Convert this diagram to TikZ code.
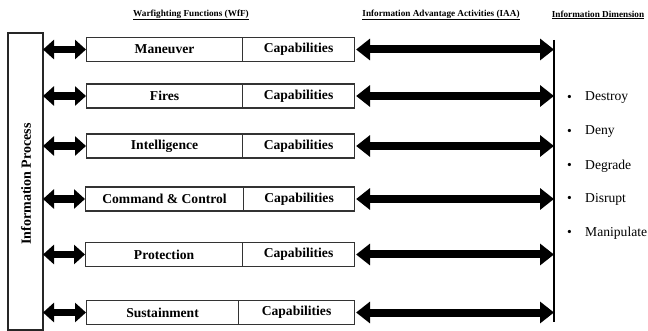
\documentclass[tikz,border=0pt]{standalone}
\usepackage{fontspec}
\setmainfont{Liberation Serif}
\usetikzlibrary{arrows.meta}
\tikzset{
  wbox/.style={draw=black!80, line width=1.1pt, minimum height=24pt, inner sep=0pt, font=\bfseries\fontsize{13.6}{15}\selectfont, anchor=west},
  hdr/.style={font=\bfseries\fontsize{9.2}{11}\selectfont, inner sep=0pt},
  smallarr/.style={line width=7.5pt, {Triangle[length=11pt,width=19pt]}-{Triangle[length=11pt,width=19pt]}, shorten <=0pt, shorten >=0pt},
  bigarr/.style={line width=8pt, {Triangle[length=14pt,width=21pt]}-{Triangle[length=14pt,width=21pt]}},
  item/.style={font=\fontsize{13.6}{15}\selectfont, anchor=west, inner sep=0pt},
}
\begin{document}
\begin{tikzpicture}[x=1pt,y=-1pt]
\useasboundingbox (0,0) rectangle (648,331);
% headers
\node[hdr] (h1) at (191,15) {\underline{Warfighting Functions (WfF)}};
\node[hdr] (h2) at (441,15) {\underline{Information Advantage Activities (IAA)}};
\node[hdr] (h3) at (598,15) {\underline{Information Dimension}};
% left box
\draw[line width=1.1pt, draw=black!85] (8,33) rectangle (43,330);
\coordinate (lb) at (43,33);
\node[rotate=90, font=\bfseries\fontsize{14}{16}\selectfont, inner sep=0pt] (ip) at (26,184) {Information Process};
% vertical line
\coordinate (vtop) at (554,40);
\coordinate (vbot) at (554,322);
\draw[line width=1.3pt] (vtop) -- (vbot);
% rows
\foreach \i/\nm/\y/\xl/\xd in {1/Maneuver/49.5/86/242, 2/Fires/96/86/242, 3/Intelligence/146/86/242, 4/Command \& Control/199/85/243, 5/Protection/254.5/85/242, 6/Sustainment/312.5/86/238}{
  \node[wbox, minimum width={\xd-\xl}] (f\i) at (\xl,\y) {\nm};
  \node[wbox, minimum width={354-\xd}] (c\i) at (\xd,\y) {Capabilities};
  \draw[smallarr] (lb |- f\i.west) -- (f\i.west);
  \draw[bigarr] ([xshift=1pt]c\i.east) -- (vtop |- c\i.east);
}
% bullets
\foreach \j/\t/\y in {1/Destroy/98, 2/Deny/132, 3/Degrade/166, 4/Disrupt/199, 5/Manipulate/233}{
  \node[item] (b\j) at (567,\y) {\textbullet};
  \node[item] (d\j) at (585,\y) {\t};
}
\end{tikzpicture}
\end{document}
